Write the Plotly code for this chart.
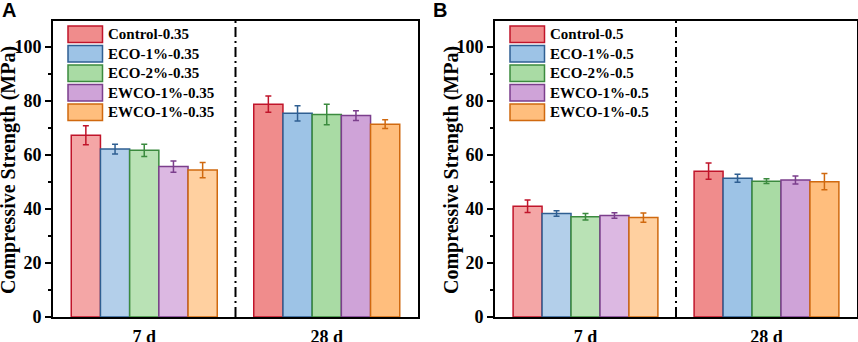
import plotly.graph_objects as go

categories = ["7 d", "28 d"]
names_a = ["Control-0.35", "ECO-1%-0.35", "ECO-2%-0.35", "EWCO-1%-0.35", "EWCO-1%-0.35"]
names_b = ["Control-0.5", "ECO-1%-0.5", "ECO-2%-0.5", "EWCO-1%-0.5", "EWCO-1%-0.5"]

vals_a = [[67.3, 78.8], [62.2, 75.4], [61.7, 75.0], [55.7, 74.6], [54.4, 71.4]]
errs_a = [[3.5, 3.0], [1.8, 2.8], [2.3, 3.8], [2.1, 1.8], [2.8, 1.6]]
vals_b = [[41.0, 54.0], [38.3, 51.4], [37.1, 50.3], [37.6, 50.7], [36.8, 50.1]]
errs_b = [[2.3, 3.0], [1.0, 1.5], [1.2, 0.9], [1.0, 1.5], [1.7, 3.0]]

fill_7d = ["#F4A6A6", "#B3CFEA", "#B9E2B5", "#DCB8E2", "#FFD0A0"]
fill_28d = ["#F08C8C", "#9DC3E6", "#A9DBA4", "#CFA3D8", "#FFBE7D"]
edges = ["#C0142A", "#2F5F92", "#3B8A3E", "#7B3E8C", "#D0690F"]

W, H = 858, 342
MT, MB = 21, 25
PH = H - MT - MB

A_L, A_R = 53, 418
B_L, B_R = 495, 857

def px_x(p):
    return p / W

def px_y(p):
    return (H - MB - p) / PH

fig = go.Figure()

for panel, (vals, errs, names, xa, ya) in enumerate([
        (vals_a, errs_a, names_a, "x", "y"),
        (vals_b, errs_b, names_b, "x2", "y2")]):
    for i in range(5):
        fig.add_trace(go.Bar(
            x=categories, y=vals[i], name=names[i], xaxis=xa, yaxis=ya,
            marker=dict(color=[fill_7d[i], fill_28d[i]],
                        line=dict(color=edges[i], width=1.5)),
            error_y=dict(type="data", array=errs[i], color=edges[i],
                         thickness=1.5, width=3),
            showlegend=False,
        ))

serif = "Liberation Serif, Times New Roman, serif"
tickfont = dict(family=serif, size=18, color="black", weight="bold")

axis_common = dict(showline=True, linewidth=2, linecolor="black", mirror=True,
                   showgrid=False, zeroline=False)

def yaxis_def(anchor):
    return dict(range=[0, 109.6], tickvals=[0, 20, 40, 60, 80, 100], ticks="outside",
                ticklen=6, tickwidth=2, tickcolor="black", tickfont=tickfont,
                minor=dict(tickvals=[10, 30, 50, 70, 90], ticks="outside", ticklen=3,
                           tickwidth=1.5, tickcolor="black"),
                anchor=anchor, automargin=False, **axis_common)

def xaxis_def(L, R, anchor):
    return dict(domain=[px_x(L), px_x(R)], range=[-0.5, 1.5], ticks="",
                tickfont=tickfont, ticklabelstandoff=2, anchor=anchor,
                automargin=False, **axis_common)

fig.update_layout(
    width=W, height=H,
    margin=dict(l=0, r=0, t=MT, b=MB),
    paper_bgcolor="white", plot_bgcolor="white",
    barmode="group", bargap=0.2, bargroupgap=0,
    xaxis=xaxis_def(A_L, A_R, "y"),
    xaxis2=xaxis_def(B_L, B_R, "y2"),
    yaxis=yaxis_def("x"),
    yaxis2=yaxis_def("x2"),
)

shapes = []
annotations = []

for (xr, yr, L, names, letter, title_x, letter_x) in [
        ("x", "y", A_L, names_a, "A", 8, 0),
        ("x2", "y2", B_L, names_b, "B", 451, 431)]:
    # dash-dot divider between ages
    shapes.append(dict(type="line", xref=xr, yref=yr + " domain", x0=0.5, x1=0.5,
                       y0=0, y1=1, line=dict(color="black", width=2, dash="10px,4px,2px,4px")))
    # custom legend
    for i, nm in enumerate(names):
        cy = 34.3 + 19.5 * i
        shapes.append(dict(type="rect", xref="paper", yref="paper",
                           x0=px_x(L + 15), x1=px_x(L + 49.5),
                           y0=px_y(cy + 8.2), y1=px_y(cy - 8.2),
                           fillcolor=fill_28d[i], line=dict(color=edges[i], width=1.5)))
        annotations.append(dict(xref="paper", yref="paper", x=px_x(L + 53), y=px_y(cy),
                                xanchor="left", yanchor="middle", text=nm, showarrow=False,
                                font=dict(family=serif, size=15, color="black", weight="bold")))
    # y-axis title
    annotations.append(dict(xref="paper", yref="paper", x=px_x(title_x), y=px_y(170),
                            xanchor="center", yanchor="middle", textangle=-90,
                            text="Compressive Strength (MPa)", showarrow=False,
                            font=dict(family=serif, size=20, color="black", weight="bold")))
    # panel letter
    annotations.append(dict(xref="paper", yref="paper", x=px_x(letter_x),
                            y=px_y(-3), xanchor="left", yanchor="top", text=letter,
                            showarrow=False,
                            font=dict(family="Liberation Sans, Arial, sans-serif", size=20,
                                      color="black", weight="bold")))

fig.update_layout(shapes=shapes, annotations=annotations)

fig.write_html("out.html", config={"displayModeBar": False},
               post_script="document.body.style.margin='0px';document.body.style.padding='0px';")
